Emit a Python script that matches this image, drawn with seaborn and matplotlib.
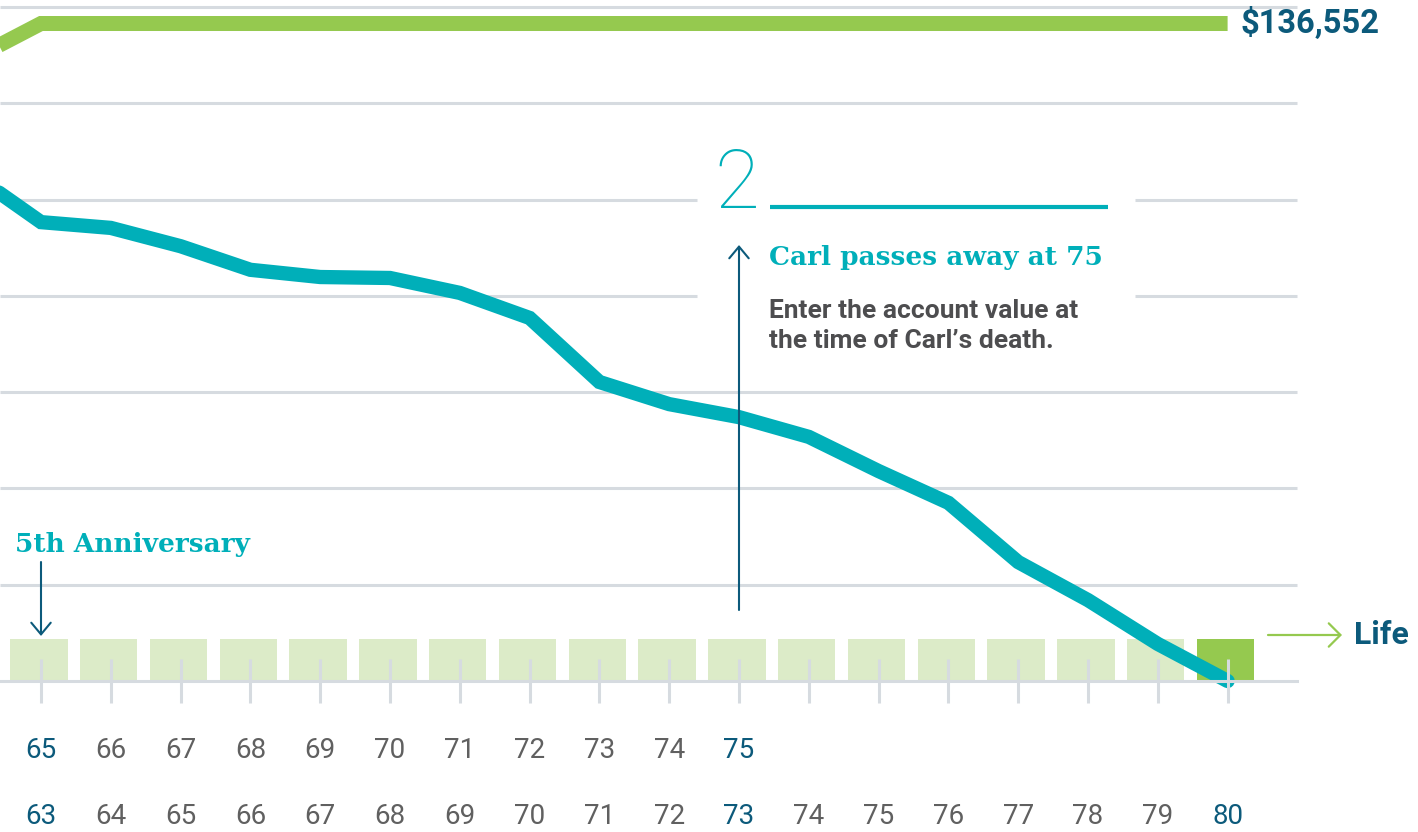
import matplotlib
matplotlib.use("Agg")
import matplotlib.pyplot as plt
import seaborn as sns

# policy years (bottom row = Carl's age, top row = annuitant age)
ages = [62, 63, 64, 65, 66, 67, 68, 69, 70, 71, 72, 73, 74, 75, 76, 77, 78, 79, 80]
account_value = [105500, 95300, 94100, 90300, 85400, 83900, 83700, 80600, 75400,
                 62100, 57500, 54800, 50700, 43600, 37000, 24700, 16800, 7700, 0]
death_benefit = [129000, 136552, 136552, 136552, 136552, 136552, 136552, 136552, 136552,
                 136552, 136552, 136552, 136552, 136552, 136552, 136552, 136552, 136552, 136552]

bar_ages = [63, 64, 65, 66, 67, 68, 69, 70, 71, 72, 73, 74, 75, 76, 77, 78, 79, 80]
top_ages = [65, 66, 67, 68, 69, 70, 71, 72, 73, 74, 75]
bottom_highlight = [63, 73, 80]
top_highlight = [65, 75]
grid_values = [0, 20000, 40000, 60000, 80000, 100000, 120000, 140000]
benefit_label = "$136,552"

TEAL = "#00afb9"
GREEN = "#95c94f"
LIGHT_GREEN = "#dcebc8"
DARK_BLUE = "#0c5a7b"
GRID = "#d6dbe0"
GREY = "#606060"

W, H = 1418, 832
PX_PER_AGE = 69.8
PX_PER_DOLLAR = 96.3 / 20000
X0 = 63 - 41 / PX_PER_AGE          # age at left edge
Y_BASE = 681                        # pixel row of $0


def dx(px):
    return X0 + px / PX_PER_AGE


def dy(py):
    return (Y_BASE - py) / PX_PER_DOLLAR


sns.set_theme(style="white")
plt.rcParams["font.family"] = ["Roboto", "DejaVu Sans"]
SLAB = ["DejaVu Serif"]

fig = plt.figure(figsize=(W / 100, H / 100), dpi=100)
ax = fig.add_axes([0, 0, 1, 1])

# life bars (drawn a touch left of the ticks, as in the original)
bar_palette = {str(a): (GREEN if a == 80 else LIGHT_GREEN) for a in bar_ages}
sns.barplot(x=[a - 0.03 for a in bar_ages], y=[42 / PX_PER_DOLLAR] * len(bar_ages),
            hue=[str(a) for a in bar_ages], palette=bar_palette, saturation=1,
            native_scale=True, width=0.82, dodge=False,
            errorbar=None, legend=False, ax=ax, zorder=1, linewidth=0)

# grid lines, broken around the callout
for v in grid_values[1:]:
    if v in (80000, 100000):
        ax.hlines(v, dx(0), dx(697), color=GRID, lw=2.2, zorder=0.5)
        ax.hlines(v, dx(1135), 81, color=GRID, lw=2.2, zorder=0.5)
    else:
        ax.hlines(v, dx(0), 81, color=GRID, lw=2.2, zorder=0.5)

sns.lineplot(x=ages, y=death_benefit, color=GREEN, lw=10.8, ax=ax, zorder=2,
             solid_capstyle="butt", solid_joinstyle="miter")
sns.lineplot(x=ages, y=account_value, color=TEAL, lw=10.3, ax=ax, zorder=2,
             solid_joinstyle="miter")

ax.set_xlim(dx(0), dx(W))
ax.set_ylim(dy(H), dy(0))
ax.set_xlabel("")
ax.set_ylabel("")
ax.set_yticks([])
ax.set_xticks(bar_ages)
ax.set_axisbelow(False)
ax.tick_params(axis="x", direction="inout", length=31, width=2.2, color=GRID,
               labelbottom=False, bottom=True)
for s in ["top", "left", "right"]:
    ax.spines[s].set_visible(False)
ax.spines["bottom"].set_position(("data", 0))
ax.spines["bottom"].set_bounds(dx(0), 81)
ax.spines["bottom"].set_color(GRID)
ax.spines["bottom"].set_linewidth(2.2)

# age rows
for a in bar_ages:
    ax.text(a, dy(817), str(a), ha="center", va="center", fontsize=20,
            color=DARK_BLUE if a in bottom_highlight else GREY)
for a, t in zip(bar_ages, top_ages):
    ax.text(a, dy(750), str(t), ha="center", va="center", fontsize=20,
            color=DARK_BLUE if t in top_highlight else GREY)

ax.text(dx(1240), death_benefit[-1], benefit_label, ha="left", va="center",
        fontsize=23.5, fontweight="bold", color=DARK_BLUE)

# life arrow
ax.annotate("", xy=(dx(1342), dy(635)), xytext=(dx(1268), dy(635)),
            arrowprops=dict(arrowstyle="->,head_length=0.6,head_width=0.6", color=GREEN,
                            lw=1.6, mutation_scale=14, shrinkA=0, shrinkB=0))
ax.text(dx(1354), dy(635), "Life", ha="left", va="center", fontsize=23,
        fontweight="bold", color=DARK_BLUE)

# callout 2
ax.text(dx(737), dy(208), "2", ha="center", va="baseline", fontsize=59,
        fontweight="light", color=TEAL)
ax.plot([dx(770), dx(1108)], [dy(207), dy(207)], color=TEAL, lw=3, solid_capstyle="butt")
ax.text(dx(769), dy(265), "Carl passes away at 75", ha="left", va="baseline",
        fontsize=19, fontweight="bold", family=SLAB, color=TEAL)
ax.text(dx(769), dy(348), "Enter the account value at\nthe time of Carl\u2019s death.",
        ha="left", va="baseline", fontsize=19, fontweight="bold", color="#4d4d4f",
        linespacing=1.3)
ax.annotate("", xy=(73, dy(245)), xytext=(73, dy(610)),
            arrowprops=dict(arrowstyle="->,head_length=0.6,head_width=0.5", color=DARK_BLUE,
                            lw=1.5, mutation_scale=14, shrinkA=0, shrinkB=0))

# 5th anniversary
ax.text(dx(15), dy(552), "5th Anniversary", ha="left", va="baseline", fontsize=19,
        fontweight="bold", family=SLAB, color=TEAL)
ax.annotate("", xy=(63, dy(636)), xytext=(63, dy(562)),
            arrowprops=dict(arrowstyle="->,head_length=0.6,head_width=0.5", color=DARK_BLUE,
                            lw=1.5, mutation_scale=14, shrinkA=0, shrinkB=0))

fig.savefig("out.png", dpi=100)
